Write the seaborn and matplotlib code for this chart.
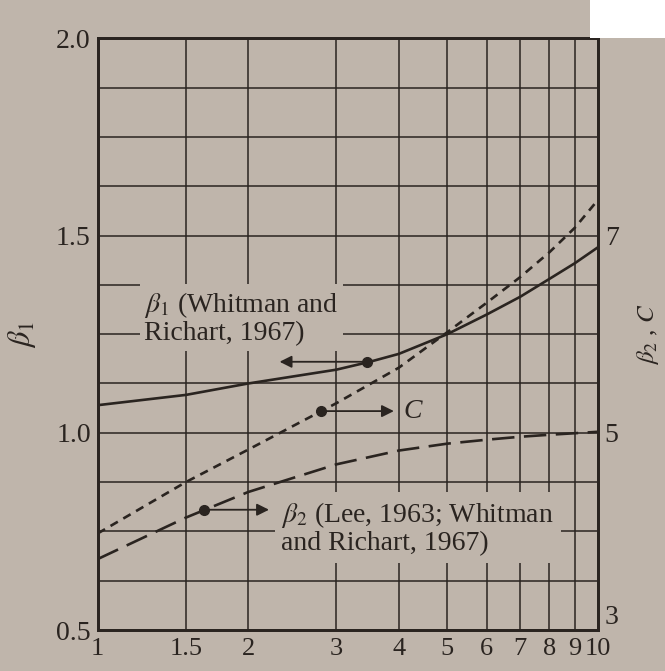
import numpy as np
import pandas as pd
import seaborn as sns
import matplotlib.pyplot as plt
from matplotlib.ticker import NullLocator, NullFormatter
from matplotlib.patches import Rectangle

# beta1 curve (left axis)
ratio_b1 = [1, 1.5, 2, 3, 3.5, 4, 5, 6, 7, 8, 9, 10]
beta1 = [1.07, 1.096, 1.125, 1.16, 1.18, 1.20, 1.25, 1.30, 1.345, 1.39, 1.43, 1.47]

# C curve (right axis)
ratio_c = [1, 1.5, 2, 3, 4, 5, 6, 7, 8, 9, 10]
c_vals = [3.98, 4.50, 4.83, 5.30, 5.66, 6.02, 6.32, 6.58, 6.83, 7.08, 7.36]

# beta2 curve (right axis)
ratio_b2 = [1, 1.5, 2, 3, 4, 5, 6, 7, 8, 10]
beta2 = [3.72, 4.14, 4.40, 4.68, 4.82, 4.89, 4.93, 4.96, 4.98, 5.01]

# marker dots on the curves
dot_b1 = (3.45, 1.18)
dot_c = (2.8, 5.22)
dot_b2 = (1.63, 4.22)

x_ticks = [1, 1.5, 2, 3, 4, 5, 6, 7, 8, 9, 10]
x_labels = ['1', '1.5', '2', '3', '4', '5', '6', '7', '8', '9', '10']
left_ticks = [0.5, 1.0, 1.5, 2.0]
left_labels = ['0.5', '1.0', '1.5', '2.0']
left_grid = np.arange(0.5, 2.0001, 0.125)
right_ticks = [3, 5, 7]
right_labels = ['3', '5', '7']

bg = '#bfb5ab'
ink = '#2a2420'

sns.set_style('white')
plt.rcParams['font.family'] = ['Liberation Serif', 'DejaVu Serif']
plt.rcParams['mathtext.fontset'] = 'stix'

fig = plt.figure(figsize=(6.65, 6.71), dpi=100, facecolor=bg)
ax = fig.add_axes([0.147, 0.061, 0.752, 0.882])
ax.set_facecolor(bg)
ax.set_xscale('log')
ax.set_xlim(1, 10)
ax.set_ylim(0.5, 2.0)

ax2 = ax.twinx()
ax2.set_ylim(3, 9)

lw = 1.9
sns.lineplot(x=ratio_b1, y=beta1, ax=ax, color=ink, lw=lw)
sns.lineplot(x=ratio_c, y=c_vals, ax=ax2, color=ink, lw=lw, linestyle=(0, (3.2, 2.4)))
sns.lineplot(x=ratio_b2, y=beta2, ax=ax2, color=ink, lw=lw, linestyle=(0, (8.5, 3.6)))

# grid
ax.set_xticks(x_ticks)
ax.set_xticklabels(x_labels)
ax.xaxis.set_minor_locator(NullLocator())
ax.xaxis.set_minor_formatter(NullFormatter())
ax.set_yticks(left_ticks)
ax.set_yticklabels(left_labels)
ax.set_yticks(left_grid, minor=True)
ax.grid(which='both', color=ink, lw=1.1)
ax.set_axisbelow(True)
ax.tick_params(which='both', length=0, labelsize=20, colors=ink)
ax.tick_params(axis='x', pad=6, labelsize=19)
ax.tick_params(axis='y', pad=5)

ax2.set_yticks(right_ticks)
ax2.set_yticklabels(right_labels)
ax2.tick_params(length=0, labelsize=20, colors=ink, pad=5)
ax2.get_yticklabels()[0].set_va('bottom')

for a in (ax, ax2):
    for s in a.spines.values():
        s.set_color(ink)
        s.set_linewidth(2.0)

ax.set_ylabel(r'$\beta_1$', fontsize=22, color=ink, rotation=90)
ax.yaxis.set_label_coords(-0.12, 0.5)
ax2.set_ylabel(r'$\beta_2$ , $C$', fontsize=18, color=ink, rotation=90)
ax2.yaxis.set_label_coords(1.074, 0.5)

arrow = dict(arrowstyle='-|>', mutation_scale=18, lw=1.3, color=ink,
             shrinkA=0, shrinkB=0)

# beta1 annotation
ax.plot(*dot_b1, 'o', color=ink, ms=7, zorder=5)
ax.annotate('', xy=(2.31, dot_b1[1]), xytext=dot_b1, arrowprops=arrow)
ax.text(1.24, 1.29, '$\\beta_1$ (Whitman and\nRichart, 1967)', fontsize=20,
        color=ink, ha='left', va='center', linespacing=1.05,
        bbox=dict(boxstyle='square,pad=0.15', fc=bg, ec='none'))

# C annotation
ax2.plot(*dot_c, 'o', color=ink, ms=7, zorder=5)
ax2.annotate('', xy=(3.91, dot_c[1]), xytext=dot_c, arrowprops=arrow)
ax2.text(4.08, dot_c[1], 'C', fontsize=20, fontstyle='italic', color=ink,
         ha='left', va='center')

# beta2 annotation
ax2.plot(*dot_b2, 'o', color=ink, ms=7, zorder=5)
ax2.annotate('', xy=(2.2, dot_b2[1]), xytext=dot_b2, arrowprops=arrow)
ax2.text(2.33, 4.03, '$\\beta_2$ (Lee, 1963; Whitman\nand Richart, 1967)', fontsize=20,
         color=ink, ha='left', va='center', linespacing=1.05,
         bbox=dict(boxstyle='square,pad=0.25', fc=bg, ec='none'))

# white patch in the top right corner of the scan
fig.patches.append(Rectangle((590 / 665, 1 - 38 / 671), 75 / 665, 38 / 671,
                             transform=fig.transFigure, fc='white', ec='none'))

fig.savefig('out.png', dpi=100, facecolor=bg)
